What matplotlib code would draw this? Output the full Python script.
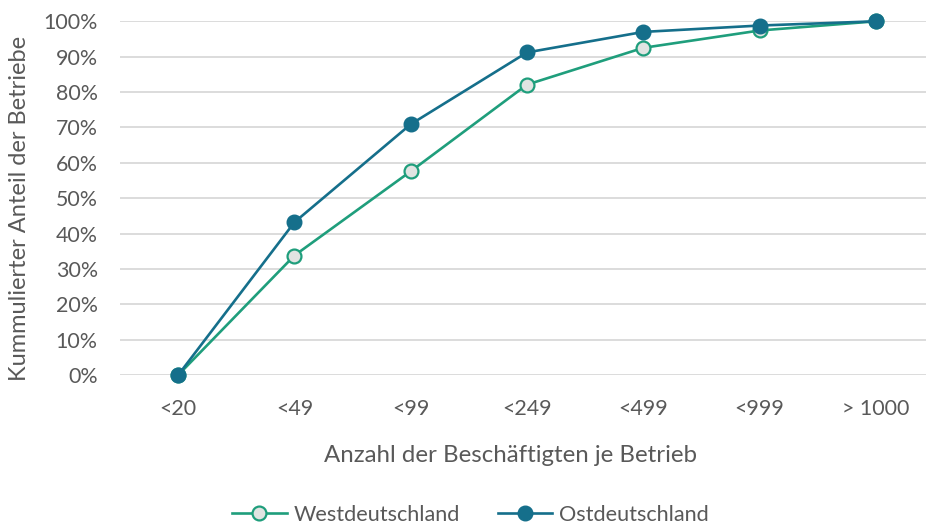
import matplotlib
matplotlib.use("Agg")
import matplotlib.pyplot as plt
from matplotlib.ticker import PercentFormatter, FixedLocator

plt.rcParams['font.family'] = ['Lato', 'DejaVu Sans']

categories = ["<20", "<49", "<99", "<249", "<499", "<999", "> 1000"]
west = [0.0, 33.8, 57.6, 82.1, 92.5, 97.4, 100.0]
east = [0.0, 43.2, 70.9, 91.2, 97.0, 98.8, 100.0]
series_names = ["Westdeutschland", "Ostdeutschland"]
y_ticks = list(range(0, 101, 10))

text_col = "#595959"
west_col = "#1F9E7C"
east_col = "#156F8B"
grid_col = "#D9D9D9"

W, H = 926, 526
fig = plt.figure(figsize=(W / 100, H / 100), dpi=100)

left, right = 120, 934
bottom, top = 375.1, 21.3
ax = fig.add_axes([left / W, 1 - bottom / H, (right - left) / W, (bottom - top) / H])

x = list(range(len(categories)))
ax.plot(x, west, color=west_col, lw=1.9, marker="o", ms=10, mfc="#E1E4E2",
        mec=west_col, mew=1.6, clip_on=False, zorder=3, label=series_names[0])
ax.plot(x, east, color=east_col, lw=1.9, marker="o", ms=10.5, mfc=east_col,
        mec=east_col, mew=1.0, clip_on=False, zorder=4, label=series_names[1])

ax.set_xlim(-0.5, len(categories) - 0.5)
ax.set_ylim(0, 100)
ax.yaxis.set_major_locator(FixedLocator(y_ticks))
ax.yaxis.set_major_formatter(PercentFormatter(decimals=0))
ax.set_xticks(x)
ax.set_xticklabels(categories)

ax.grid(axis="y", color=grid_col, lw=1.3)
ax.set_axisbelow(True)
for s in ax.spines.values():
    s.set_visible(False)
ax.tick_params(axis="both", length=0, labelsize=15.4, labelcolor=text_col)
ax.tick_params(axis="y", pad=16)
ax.tick_params(axis="x", pad=17)

fig.text(20 / W, 1 - 208 / H, "Kummulierter Anteil der Betriebe", rotation=90,
         ha="center", va="center", fontsize=17, color=text_col)
fig.text(510 / W, 1 - 455 / H, "Anzahl der Beschäftigten je Betrieb",
         ha="center", va="center", fontsize=17.3, color=text_col)

leg = fig.legend(loc="center", bbox_to_anchor=(470.5 / W, 1 - 515 / H), ncol=2,
                 frameon=False, fontsize=15.6, handlelength=2.5, handletextpad=0.32,
                 columnspacing=1.75, borderaxespad=0, borderpad=0)
for t in leg.get_texts():
    t.set_color(text_col)

fig.savefig("out.png", dpi=100, facecolor="white")
